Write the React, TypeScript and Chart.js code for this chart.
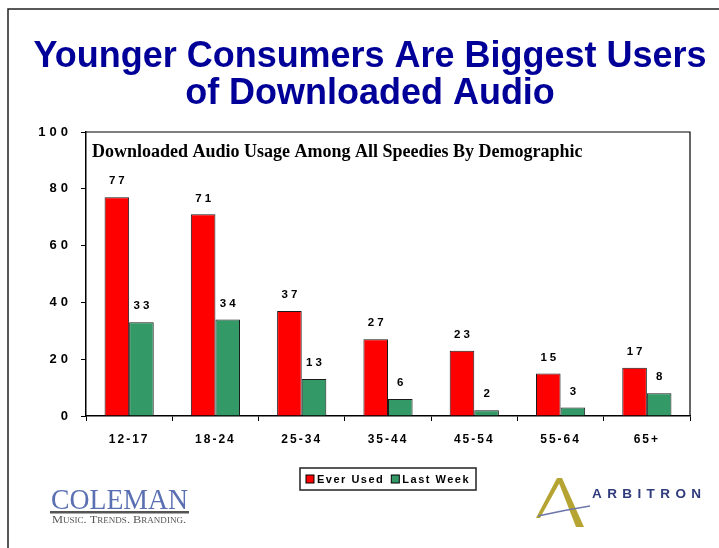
import React, { useEffect, useRef } from 'react';
import { Chart, registerables } from 'chart.js';

Chart.register(...registerables);

const categories = ['12-17', '18-24', '25-34', '35-44', '45-54', '55-64', '65+'];
const everUsed = [77, 71, 37, 27, 23, 15, 17];
const lastWeek = [33, 34, 13, 6, 2, 3, 8];
const seriesNames = ['Ever Used', 'Last Week'];
const seriesColors = ['#FF0000', '#339966'];
const yMin = 0;
const yMax = 100;
const yStep = 20;
const titleLines = ['Younger Consumers Are Biggest Users', 'of Downloaded Audio'];
const subtitle = 'Downloaded Audio Usage Among All Speedies By Demographic';

const SANS = '"Liberation Sans", Arial, Helvetica, sans-serif';
const SERIF = '"Liberation Serif", "Times New Roman", serif';

const tickSpacing: Record<string, string> = { x: '2px', y: '4px' };

const spacingPlugin = {
  id: 'tickSpacing',
  beforeDraw(chart: any) {
    Object.keys(chart.scales).forEach((id) => {
      const s: any = chart.scales[id];
      if (s.__patched) return;
      const orig = s.drawLabels.bind(s);
      s.drawLabels = (area: any) => {
        const ctx = chart.ctx;
        ctx.save();
        (ctx as any).letterSpacing = tickSpacing[id] || '0px';
        orig(area);
        ctx.restore();
      };
      s.__patched = true;
    });
  },
};

const labelsPlugin = {
  id: 'barValues',
  afterDatasetsDraw(chart: any) {
    const ctx = chart.ctx;
    ctx.save();
    ctx.font = `bold 11.5px ${SANS}`;
    (ctx as any).letterSpacing = '3px';
    ctx.fillStyle = '#000';
    ctx.textAlign = 'center';
    ctx.textBaseline = 'middle';
    chart.data.datasets.forEach((ds: any, i: number) => {
      const meta = chart.getDatasetMeta(i);
      meta.data.forEach((el: any, j: number) => {
        ctx.fillText(String(ds.data[j]), el.x + 1.5, el.y - 16);
      });
    });
    ctx.restore();
  },
};

function fitText(ctx: CanvasRenderingContext2D, text: string, cx: number, y: number, width: number) {
  const w = ctx.measureText(text).width;
  ctx.save();
  ctx.translate(cx, y);
  ctx.scale(width / w, 1);
  ctx.textAlign = 'center';
  ctx.fillText(text, 0, 0);
  ctx.restore();
}

const decorPlugin = {
  id: 'decor',
  afterDraw(chart: any) {
    const ctx = chart.ctx;
    const ca = chart.chartArea;
    ctx.save();
    (ctx as any).letterSpacing = '0px';

    // outer frame
    ctx.strokeStyle = '#222';
    ctx.lineWidth = 1.5;
    ctx.beginPath();
    ctx.moveTo(8, 560);
    ctx.lineTo(8, 9);
    ctx.lineTo(730, 9);
    ctx.stroke();

    // plot area top / right border
    ctx.strokeStyle = '#000';
    ctx.lineWidth = 1.2;
    ctx.beginPath();
    ctx.moveTo(ca.left, ca.top);
    ctx.lineTo(ca.right, ca.top);
    ctx.lineTo(ca.right, ca.bottom);
    ctx.stroke();

    // title (slightly condensed)
    ctx.fillStyle = '#000099';
    ctx.font = `bold 37px ${SANS}`;
    ctx.textBaseline = 'alphabetic';
    const w1 = ctx.measureText(titleLines[0]).width;
    const k = 673 / w1;
    fitText(ctx, titleLines[0], 370, 67, 673);
    fitText(ctx, titleLines[1], 370, 104, ctx.measureText(titleLines[1]).width * k);

    // subtitle inside plot
    ctx.fillStyle = '#000';
    ctx.font = `bold 18px ${SERIF}`;
    ctx.textAlign = 'left';
    ctx.fillText(subtitle, ca.left + 6, 157);

    // legend
    ctx.font = `bold 11px ${SANS}`;
    (ctx as any).letterSpacing = '1.5px';
    const ds = chart.data.datasets;
    const sq = 8;
    const pad = 6;
    const gapBox = 3;
    const gapItem = 7;
    const widths = ds.map((d: any) => ctx.measureText(d.label).width);
    let total = pad * 2;
    widths.forEach((w: number, i: number) => {
      total += sq + gapBox + w + (i < widths.length - 1 ? gapItem : 0);
    });
    const cx = (ca.left + ca.right) / 2;
    const lx = cx - total / 2;
    const ly = 468;
    const lh = 22;
    ctx.strokeStyle = '#222';
    ctx.lineWidth = 1.5;
    ctx.strokeRect(lx, ly, total, lh);
    let x = lx + pad;
    const my = ly + lh / 2;
    ctx.textBaseline = 'middle';
    ds.forEach((d: any, i: number) => {
      ctx.fillStyle = d.backgroundColor;
      ctx.fillRect(x, my - sq / 2, sq, sq);
      ctx.strokeStyle = '#000';
      ctx.lineWidth = 1;
      ctx.strokeRect(x, my - sq / 2, sq, sq);
      x += sq + gapBox;
      ctx.fillStyle = '#000';
      ctx.fillText(d.label, x, my + 0.5);
      x += widths[i] + gapItem;
    });
    (ctx as any).letterSpacing = '0px';

    // COLEMAN logo
    ctx.textBaseline = 'alphabetic';
    ctx.textAlign = 'left';
    ctx.fillStyle = '#5b70b2';
    ctx.font = `30px ${SERIF}`;
    const cw = ctx.measureText('COLEMAN').width;
    ctx.save();
    ctx.translate(51, 509);
    ctx.scale(137 / cw, 1);
    ctx.fillText('COLEMAN', 0, 0);
    ctx.restore();
    ctx.fillStyle = '#555';
    ctx.fillRect(50, 511, 139, 2.5);
    ctx.font = `small-caps 11px ${SERIF}`;
    const tw = ctx.measureText('Music. Trends. Branding.').width;
    ctx.save();
    ctx.translate(52, 523);
    ctx.scale(134 / tw, 1);
    ctx.fillStyle = '#555';
    ctx.fillText('Music. Trends. Branding.', 0, 0);
    ctx.restore();

    // ARBITRON logo
    ctx.fillStyle = '#b5a432';
    ctx.beginPath();
    ctx.moveTo(557, 478);
    ctx.lineTo(562, 478);
    ctx.lineTo(584, 527);
    ctx.lineTo(576, 527);
    ctx.closePath();
    ctx.fill();
    ctx.beginPath();
    ctx.moveTo(557, 478);
    ctx.lineTo(560, 482);
    ctx.lineTo(540, 518);
    ctx.lineTo(536, 518);
    ctx.closePath();
    ctx.fill();
    ctx.strokeStyle = '#6d77aa';
    ctx.lineWidth = 1.3;
    ctx.beginPath();
    ctx.moveTo(538, 516);
    ctx.quadraticCurveTo(565, 510, 590, 506);
    ctx.stroke();
    ctx.fillStyle = '#2f3b7c';
    ctx.font = `bold 13.5px ${SANS}`;
    (ctx as any).letterSpacing = '5.4px';
    ctx.fillText('ARBITRON', 592, 498);

    ctx.restore();
  },
};

export default function App() {
  const ref = useRef<HTMLCanvasElement | null>(null);

  useEffect(() => {
    if (!ref.current) return;
    const chart = new Chart(ref.current, {
      type: 'bar',
      data: {
        labels: categories,
        datasets: [
          {
            label: seriesNames[0],
            data: everUsed,
            backgroundColor: seriesColors[0],
            borderColor: '#1a1a1a',
            borderWidth: 1,
            categoryPercentage: 0.57,
            barPercentage: 1,
          },
          {
            label: seriesNames[1],
            data: lastWeek,
            backgroundColor: seriesColors[1],
            borderColor: '#1a1a1a',
            borderWidth: 1,
            categoryPercentage: 0.57,
            barPercentage: 1,
          },
        ],
      },
      options: {
        responsive: false,
        animation: false,
        devicePixelRatio: 1,
        layout: { padding: { top: 132, right: 29, left: 0, bottom: 0 } },
        plugins: {
          legend: { display: false },
          title: { display: false },
          tooltip: { enabled: false },
        },
        scales: {
          x: {
            afterFit: (s: any) => {
              s.height = 132;
            },
            grid: {
              drawOnChartArea: false,
              drawTicks: true,
              tickLength: 5,
              color: '#000',
              lineWidth: 1,
              offset: true,
            },
            border: { display: true, color: '#000', width: 1.5 },
            ticks: {
              color: '#000',
              font: { family: SANS, size: 12, weight: 'bold' },
              padding: 11,
              maxRotation: 0,
              autoSkip: false,
            },
          },
          y: {
            min: yMin,
            max: yMax,
            afterFit: (s: any) => {
              s.width = 86;
            },
            grid: {
              drawOnChartArea: false,
              drawTicks: true,
              tickLength: 5,
              color: '#000',
              lineWidth: 1,
            },
            border: { display: true, color: '#000', width: 1.5 },
            ticks: {
              stepSize: yStep,
              color: '#000',
              font: { family: SANS, size: 13, weight: 'bold' },
              padding: 9,
            },
          },
        },
      },
      plugins: [spacingPlugin, labelsPlugin, decorPlugin],
    });
    return () => chart.destroy();
  }, []);

  return (
    <div style={{ position: 'fixed', left: 0, top: 0, width: 719, height: 548, background: '#fff' }}>
      <canvas ref={ref} width={719} height={548} style={{ display: 'block' }} />
    </div>
  );
}
